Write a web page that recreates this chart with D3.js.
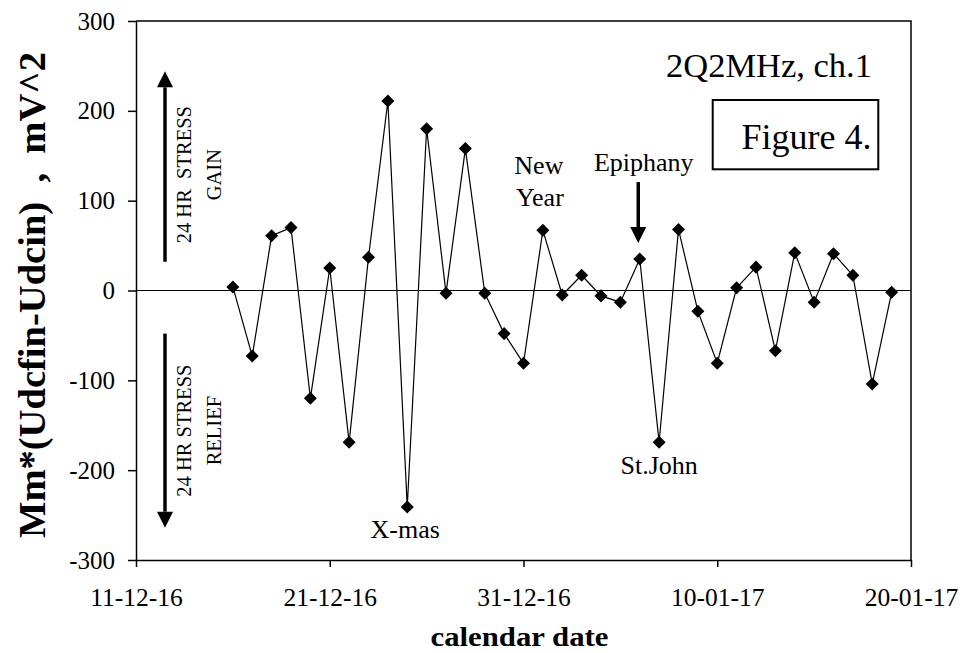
<!DOCTYPE html>
<html>
  <head>
    <meta charset="utf-8">
    <title>Figure 4</title>
    <style>
      body { margin: 0; background: #fff; }
      text { font-family: "Liberation Serif", "Times New Roman", serif; fill: #000; }
    </style>
  </head>
  <body>
    <div id="my_dataviz"></div>
    <script src="https://d3js.org/d3.v7.min.js"></script>
    <script>

    // daily values
    var dates = ["2016-12-16", "2016-12-17", "2016-12-18", "2016-12-19", "2016-12-20",
                 "2016-12-21", "2016-12-22", "2016-12-23", "2016-12-24", "2016-12-25",
                 "2016-12-26", "2016-12-27", "2016-12-28", "2016-12-29", "2016-12-30",
                 "2016-12-31", "2017-01-01", "2017-01-02", "2017-01-03", "2017-01-04",
                 "2017-01-05", "2017-01-06", "2017-01-07", "2017-01-08", "2017-01-09",
                 "2017-01-10", "2017-01-11", "2017-01-12", "2017-01-13", "2017-01-14",
                 "2017-01-15", "2017-01-16", "2017-01-17", "2017-01-18", "2017-01-19"]
    var values = [4, -73, 61, 70, -120,
                  25, -169, 37, 211, -241,
                  180, -3, 158, -3, -48,
                  -81, 67, -5, 17, -6,
                  -13, 35, -169, 68, -23,
                  -81, 3, 26, -67, 42,
                  -13, 41, 17, -104, -2]

    var xTicks = ["2016-12-11", "2016-12-21", "2016-12-31", "2017-01-10", "2017-01-20"]
    var yTicks = [-300, -200, -100, 0, 100, 200, 300]

    var width = 980, height = 653
    var margin = {top: 21, right: 69, bottom: 93, left: 136}

    var parse = d3.utcParse("%Y-%m-%d")
    var fmt = d3.utcFormat("%d-%m-%y")

    var data = dates.map(function(d, i) { return {date: parse(d), value: values[i]} })

    var svg = d3.select("#my_dataviz")
      .append("svg")
        .attr("width", width)
        .attr("height", height)

    var x = d3.scaleUtc()
      .domain([parse(xTicks[0]), parse(xTicks[xTicks.length - 1])])
      .range([margin.left, width - margin.right])

    var y = d3.scaleLinear()
      .domain([-300, 300])
      .range([height - margin.bottom, margin.top])

    // frame: top and right edges
    svg.append("path")
      .attr("d", "M" + margin.left + "," + y(300) + "H" + x.range()[1] + "V" + y(-300))
      .attr("fill", "none")
      .attr("stroke", "#000")
      .attr("stroke-width", 1.5)

    // zero line
    svg.append("line")
      .attr("x1", x.range()[0]).attr("x2", x.range()[1])
      .attr("y1", y(0)).attr("y2", y(0))
      .attr("stroke", "#000")
      .attr("stroke-width", 1)

    // x axis
    var gx = svg.append("g")
      .attr("transform", "translate(0," + y(-300) + ")")
      .call(d3.axisBottom(x)
        .tickValues(xTicks.map(parse))
        .tickFormat(fmt)
        .tickSize(7)
        .tickSizeOuter(0)
        .tickPadding(21))
    gx.selectAll("text").style("font-size", "25.5px").attr("font-family", null)
    gx.selectAll("path, line").attr("stroke", "#000").attr("stroke-width", 1.5)

    // y axis
    var gy = svg.append("g")
      .attr("transform", "translate(" + margin.left + ",0)")
      .call(d3.axisLeft(y)
        .tickValues(yTicks)
        .tickFormat(function(d) { return String(d) })
        .tickSize(8)
        .tickSizeOuter(0)
        .tickPadding(13))
    gy.selectAll("text").style("font-size", "25px").attr("font-family", null)
    gy.selectAll("path, line").attr("stroke", "#000").attr("stroke-width", 1.5)
    svg.selectAll(".domain").attr("stroke-width", 1.5)

    // the series
    var line = d3.line()
      .x(function(d) { return x(d.date) })
      .y(function(d) { return y(d.value) })

    svg.append("path")
      .datum(data)
      .attr("fill", "none")
      .attr("stroke", "#000")
      .attr("stroke-width", 1.2)
      .attr("d", line)

    var diamond = d3.symbol().type(d3.symbolSquare).size(85)
    svg.selectAll(".pt")
      .data(data)
      .enter()
      .append("path")
        .attr("class", "pt")
        .attr("d", diamond)
        .attr("transform", function(d) { return "translate(" + x(d.date) + "," + y(d.value) + ") rotate(45)" })
        .attr("fill", "#000")

    // axis titles
    svg.append("text")
      .attr("x", (x.range()[0] + x.range()[1]) / 2 - 4)
      .attr("y", 646)
      .attr("text-anchor", "middle")
      .attr("font-weight", "bold")
      .attr("textLength", 178)
      .attr("lengthAdjust", "spacingAndGlyphs")
      .style("font-size", "28px")
      .text("calendar date")

    svg.append("text")
      .attr("transform", "translate(45," + 295 + ") rotate(-90)")
      .attr("text-anchor", "middle")
      .attr("font-weight", "bold")
      .attr("textLength", 486)
      .attr("lengthAdjust", "spacingAndGlyphs")
      .style("font-size", "37px")
      .style("white-space", "pre")
      .text("Mm*(Udcfin-Udcin)  ,  mV^2")

    // title and figure box
    svg.append("text")
      .attr("x", 872)
      .attr("y", 77)
      .attr("text-anchor", "end")
      .style("font-size", "34.5px")
      .text("2Q2MHz, ch.1")

    svg.append("rect")
      .attr("x", 712.7).attr("y", 100)
      .attr("width", 165.6).attr("height", 69.3)
      .attr("fill", "none")
      .attr("stroke", "#000")
      .attr("stroke-width", 2)

    svg.append("text")
      .attr("x", 871.5)
      .attr("y", 148.5)
      .attr("text-anchor", "end")
      .style("font-size", "36px")
      .text("Figure 4.")

    // helper: vertical arrow with a triangular head
    function arrow(xp, y0, y1) {
      var dir = y1 < y0 ? 1 : -1, head = 16
      svg.append("line")
        .attr("x1", xp).attr("x2", xp)
        .attr("y1", y0).attr("y2", y1 + dir * head)
        .attr("stroke", "#000")
        .attr("stroke-width", 3.5)
      svg.append("path")
        .attr("d", "M" + xp + "," + y1 + "L" + (xp - 8) + "," + (y1 + dir * head) + "L" + (xp + 8) + "," + (y1 + dir * head) + "Z")
        .attr("fill", "#000")
    }

    // left side: stress gain / relief
    var ax = margin.left + 29
    arrow(ax, y(32), y(244))
    arrow(ax, y(-48), y(-264))

    function vtext(xp, yp, s) {
      svg.append("text")
        .attr("transform", "translate(" + xp + "," + yp + ") rotate(-90)")
        .attr("text-anchor", "middle")
        .style("font-size", "20.5px")
        .style("white-space", "pre")
        .text(s)
    }
    vtext(190.5, y(129), "24 HR  STRESS")
    vtext(221, y(129), "GAIN")
    vtext(190.5, y(-156), "24 HR STRESS")
    vtext(221, y(-156), "RELIEF")

    // holiday notes, placed relative to their points
    function pt(day) { var d = data.find(function(e) { return e.date.getTime() === parse(day).getTime() }); return [x(d.date), y(d.value)] }

    function note(p, dx, dy, s) {
      svg.append("text")
        .attr("x", p[0] + dx)
        .attr("y", p[1] + dy)
        .attr("text-anchor", "middle")
        .style("font-size", "26px")
        .text(s)
    }

    var xmas = pt("2016-12-25")
    note(xmas, -2, 31, "X-mas")

    var john = pt("2017-01-07")
    note(john, 0, 32, "St.John")

    var ny = pt("2017-01-01")
    note(ny, -4, -56, "New")
    note(ny, -3, -24, "Year")

    var epi = pt("2017-01-06")
    note(epi, 4, -88, "Epiphany")
    arrow(epi[0] - 1.5, epi[1] - 77, epi[1] - 16)

    </script>
  </body>
</html>
